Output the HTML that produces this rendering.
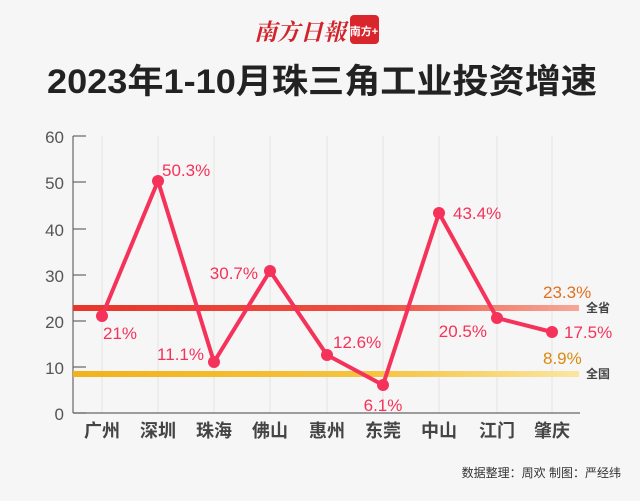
<!DOCTYPE html>
<html><head><meta charset="utf-8"><style>
body{margin:0;width:640px;height:496px;background:#f6f6f6;overflow:hidden;font-family:"Liberation Sans","Noto Sans CJK SC",sans-serif}
</style></head><body>
<svg width="640" height="496" xmlns="http://www.w3.org/2000/svg" font-family="Liberation Sans, Noto Sans CJK SC, sans-serif">
<defs>
<linearGradient id="r" x1="0" x2="1"><stop offset="0" stop-color="#e8352a"/><stop offset="0.6" stop-color="#ee5040"/><stop offset="1" stop-color="#f6a898"/></linearGradient>
<linearGradient id="y" x1="0" x2="1"><stop offset="0" stop-color="#f2b21a"/><stop offset="0.6" stop-color="#f5c440"/><stop offset="1" stop-color="#fbe5a0"/></linearGradient>
</defs>
<text x="300" y="40" font-size="23" fill="#d2232a" text-anchor="middle" font-family="Noto Serif CJK SC, serif" font-weight="bold" font-style="italic">南方日報</text>
<rect x="350" y="15" width="29" height="29" rx="4" fill="#d9262c"/>
<text x="364" y="35" font-size="11" fill="#fff" text-anchor="middle" font-weight="bold">南方+</text>
<text x="322" y="93" font-size="34" font-weight="bold" fill="#222" text-anchor="middle" textLength="550" lengthAdjust="spacingAndGlyphs">2023年1-10月珠三角工业投资增速</text>
<g stroke="#e4e4e4" stroke-width="1">
<line x1="102" y1="136" x2="102" y2="413"/><line x1="158" y1="136" x2="158" y2="413"/><line x1="214" y1="136" x2="214" y2="413"/><line x1="270" y1="136" x2="270" y2="413"/><line x1="327" y1="136" x2="327" y2="413"/><line x1="383" y1="136" x2="383" y2="413"/><line x1="439" y1="136" x2="439" y2="413"/><line x1="497" y1="136" x2="497" y2="413"/><line x1="552" y1="136" x2="552" y2="413"/>
</g>
<g stroke="#666" stroke-width="1.2">
<line x1="73" y1="136" x2="73" y2="413"/><line x1="73" y1="413" x2="580" y2="413"/>
<line x1="73" y1="136" x2="86" y2="136"/><line x1="73" y1="182" x2="86" y2="182"/><line x1="73" y1="229" x2="86" y2="229"/><line x1="73" y1="275" x2="86" y2="275"/><line x1="73" y1="321" x2="86" y2="321"/><line x1="73" y1="367" x2="86" y2="367"/><line x1="73" y1="413" x2="86" y2="413"/>
</g>
<g font-size="17" fill="#555" text-anchor="end">
<text x="64" y="143">60</text><text x="64" y="189">50</text><text x="64" y="236">40</text><text x="64" y="282">30</text><text x="64" y="328">20</text><text x="64" y="374">10</text><text x="64" y="420">0</text>
</g>
<rect x="73" y="305" width="506" height="6" fill="url(#r)"/>
<rect x="73" y="371" width="506" height="6" fill="url(#y)"/>
<text x="586" y="312" font-size="12" fill="#444" font-weight="bold">全省</text>
<text x="586" y="378" font-size="12" fill="#444" font-weight="bold">全国</text>
<text x="543" y="298" font-size="17" fill="#e07020">23.3%</text>
<text x="543" y="364" font-size="17" fill="#d88a10">8.9%</text>
<polyline fill="none" stroke="#f5325a" stroke-width="4" stroke-linejoin="round" points="102,316 158,181 214,362 270,271 327,355 383,385 439,213 497,318 552,332"/>
<g fill="#f5325a">
<circle cx="102" cy="316" r="6"/><circle cx="158" cy="181" r="6"/><circle cx="214" cy="362" r="6"/><circle cx="270" cy="271" r="6"/><circle cx="327" cy="355" r="6"/><circle cx="383" cy="385" r="6"/><circle cx="439" cy="213" r="6"/><circle cx="497" cy="318" r="6"/><circle cx="552" cy="332" r="6"/>
</g>
<g font-size="17" fill="#f5325a">
<text x="103" y="339">21%</text>
<text x="162" y="176">50.3%</text>
<text x="204" y="360" text-anchor="end">11.1%</text>
<text x="258" y="279" text-anchor="end">30.7%</text>
<text x="333" y="348">12.6%</text>
<text x="383" y="411" text-anchor="middle">6.1%</text>
<text x="453" y="219">43.4%</text>
<text x="487" y="337" text-anchor="end">20.5%</text>
<text x="564" y="338">17.5%</text>
</g>
<g font-size="18" font-weight="bold" fill="#444" text-anchor="middle">
<text x="102" y="437">广州</text><text x="158" y="437">深圳</text><text x="214" y="437">珠海</text><text x="270" y="437">佛山</text><text x="327" y="437">惠州</text><text x="383" y="437">东莞</text><text x="439" y="437">中山</text><text x="497" y="437">江门</text><text x="552" y="437">肇庆</text>
</g>
<text x="621" y="477" font-size="12" fill="#333" text-anchor="end">数据整理：周欢  制图：严经纬</text>
</svg>
</body></html>
